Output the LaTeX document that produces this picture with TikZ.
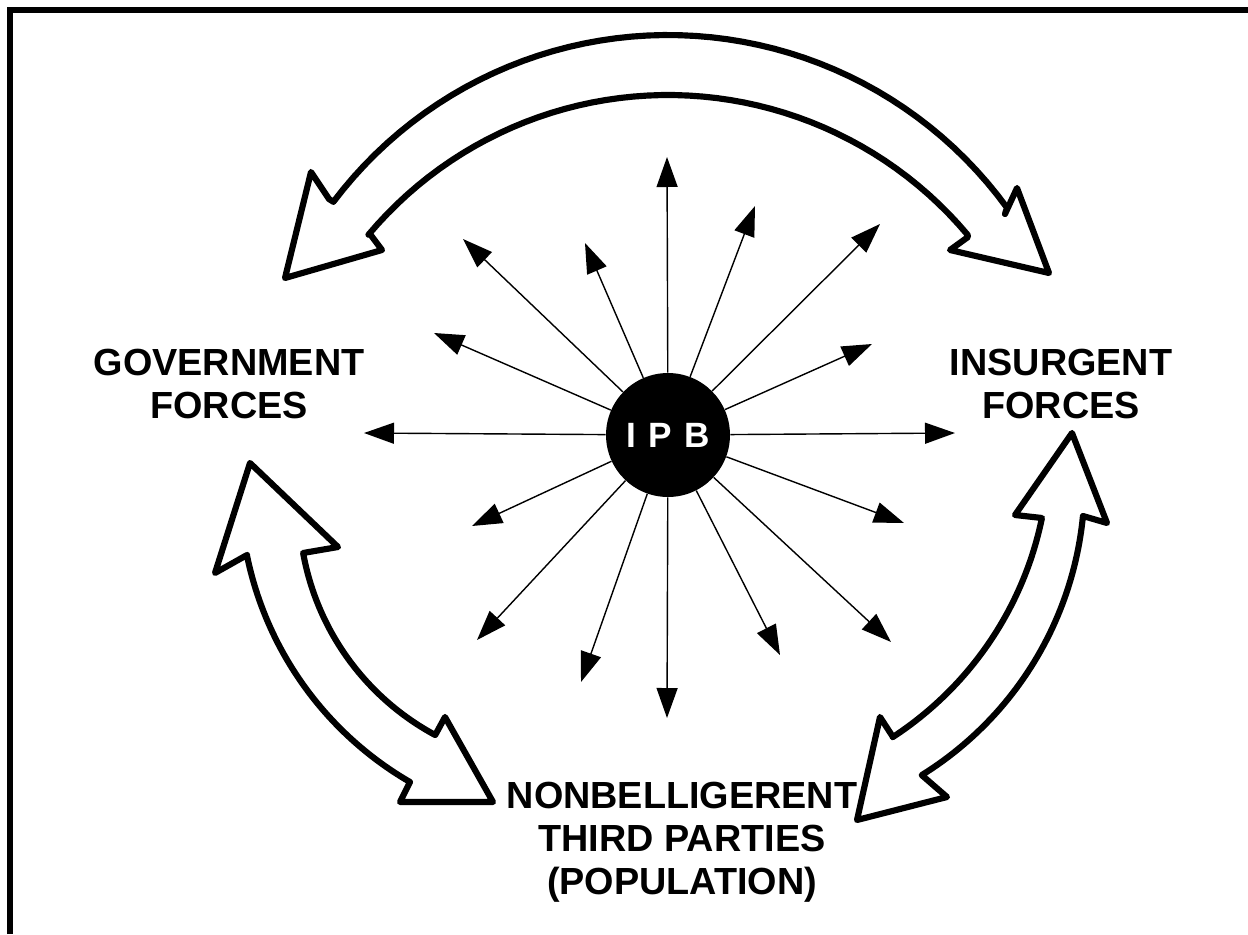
\documentclass[tikz,border=0pt]{standalone}
\usepackage{fontspec}
\setmainfont{Liberation Sans}
\usetikzlibrary{arrows.meta}

\begin{document}
\begin{tikzpicture}[x=0.02cm, y=-0.02cm,
  bigarrow/.style={line width=3.5pt, line join=round, fill=white},
  spoke/.style={line width=0.8pt, -{Triangle[length=6mm, width=4.2mm]}},
  partylabel/.style={font=\fontsize{21.5}{24.5}\selectfont\bfseries, align=center, inner sep=0pt}]
  \useasboundingbox (0,0) rectangle (1248,934);
  % frame (left and top edge only)
  \draw[line width=3.4pt] (9.7,934) -- (9.7,9.7) -- (1248,9.7);

  % curved double arrows
  \draw[bigarrow] (329,199) -- (311,172) -- (285,278) -- (382,250) -- (370,234)
    -- plot[domain=140:40, samples=50] ({668+391*cos(\x)}, {486-391*sin(\x)})
    -- (968,237) -- (950,250) -- (1049,273) -- (1017,188) -- (1005,214)
    -- plot[domain=36:143, samples=50] ({668+419*cos(\x)}, {454-419*sin(\x)}) -- cycle;
  \draw[bigarrow] (247,555) -- (215,573) -- (250,463) -- (338,547) -- (303,553)
    -- plot[domain=190.2:241.7, samples=50] ({558+259*cos(\x)}, {507-259*sin(\x)})
    -- (445,717) -- (493,802) -- (400,802) -- (410,782)
    -- plot[domain=239.9:191.5, samples=50] ({581+341*cos(\x)}, {487-341*sin(\x)}) -- cycle;
  \draw[bigarrow] (1042,518) -- (1015,515) -- (1072,433) -- (1107,523) -- (1083,516)
    -- plot[domain=-5.6:-58.2, samples=50] ({740.3+344.3*cos(\x)}, {482.5-344.3*sin(\x)})
    -- (947,797) -- (857,820) -- (880,717) -- (893,737)
    -- plot[domain=-56.9:-11.6, samples=50] ({704.7+344.3*cos(\x)}, {448.7-344.3*sin(\x)}) -- cycle;

  % IPB and its spokes
  \node[circle, fill=black, minimum size=2.48cm, inner sep=0pt, text=white,
        font=\fontsize{20}{24}\selectfont\bfseries] (ipb) at (668,435) {I\hspace{0.35em}P\hspace{0.35em}B};
  \foreach \tx/\ty [count=\i] in {955/433, 872/344, 880/224, 755/206, 667/157, 585/243,
      463/239, 434/333, 364/433, 472/526, 477/640, 581/682, 667/718, 780/655,
      891/642, 904/523} {
    \coordinate (t\i) at (\tx,\ty);
    \draw[spoke] (ipb) -- (t\i);
  }

  % parties
  \node[partylabel] (gov) at (229,384) {GOVERNMENT\\FORCES};
  \node[partylabel] (ins) at (1061,384) {INSURGENT\\FORCES};
  \node[partylabel] (pop) at (682,842) {NONBELLIGERENT\\THIRD PARTIES\\(POPULATION)};
\end{tikzpicture}
\end{document}
